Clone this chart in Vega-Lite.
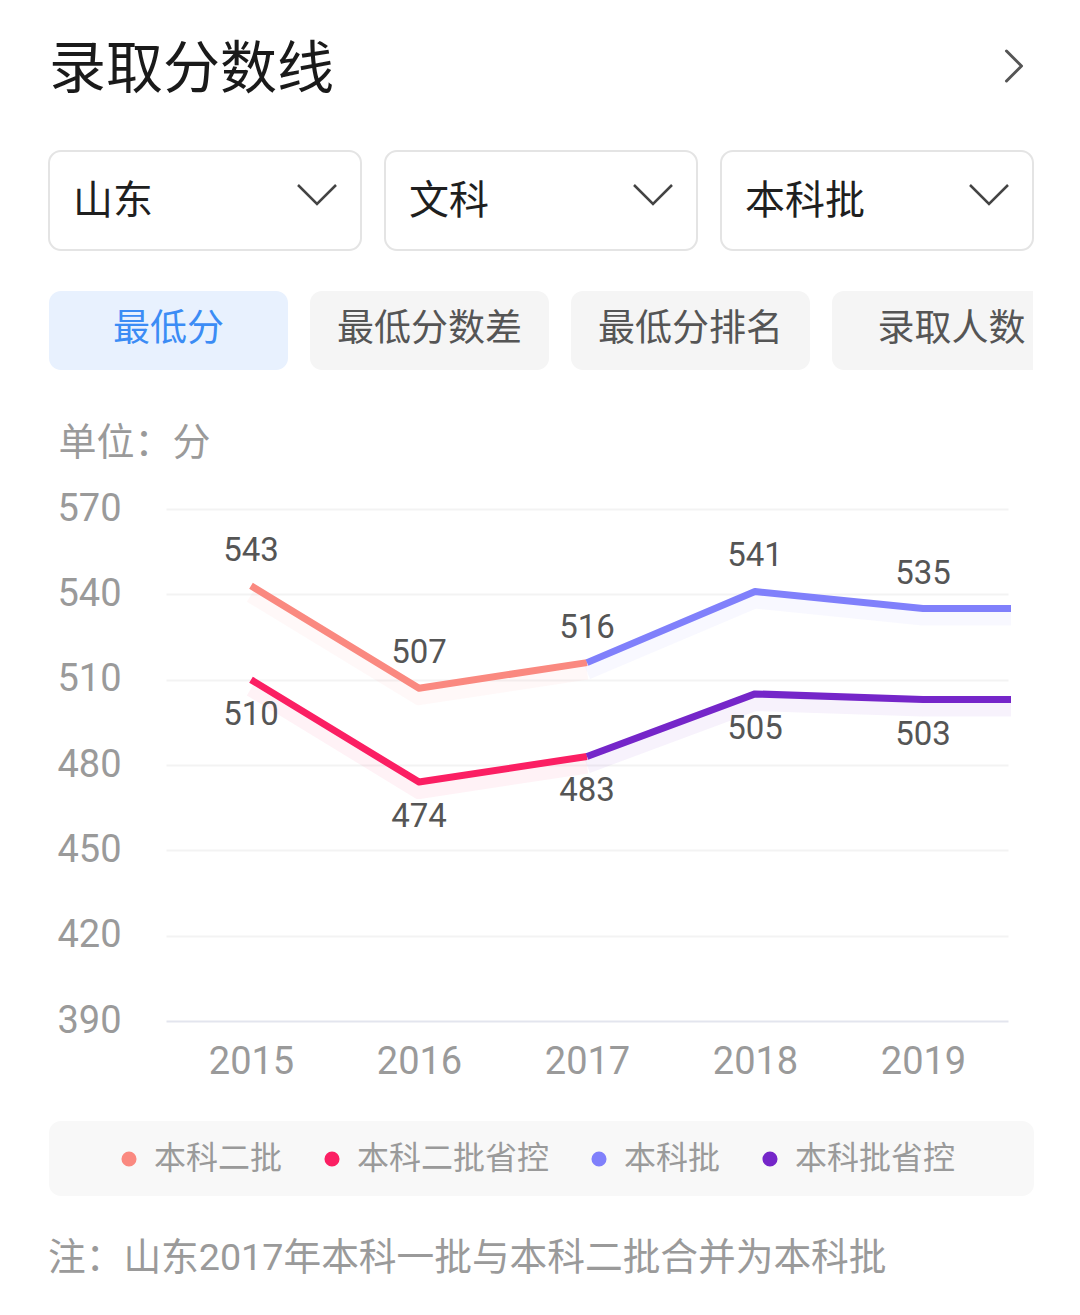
{
  "$schema": "https://vega.github.io/schema/vega-lite/v6.json",
  "background": "white",
  "padding": {"left": 48, "top": 22, "right": 0, "bottom": 0},
  "spacing": 40,
  "config": {"view": {"stroke": null}, "font": "Noto Sans CJK SC"},
  "resolve": {"scale": {"color": "independent"}},
  "title": {
    "text": "注：山东2017年本科一批与本科二批合并为本科批",
    "orient": "bottom",
    "anchor": "start",
    "fontSize": 37.7,
    "font": "Roboto, Noto Sans CJK SC",
    "color": "#9a9a9a",
    "fontWeight": "normal",
    "offset": 44
  },
  "vconcat": [
    {
      "width": 984,
      "height": 88,
      "data": {"values": [{"标题": "录取分数线"}]},
      "layer": [
        {
          "mark": {"type": "text", "align": "left", "baseline": "middle", "x": 0, "dy": 5, "fontSize": 57, "color": "#1a1a1a", "font": "Noto Sans CJK SC"},
          "encoding": {"text": {"field": "标题"}}
        },
        {
          "mark": {"type": "point", "shape": "M-0.5,-1L0.5,0L-0.5,1", "size": 900, "filled": false, "stroke": "#555555", "strokeWidth": 3, "strokeCap": "round", "strokeJoin": "round", "opacity": 1, "x": "width", "xOffset": -19},
          "encoding": {}
        }
      ]
    },
    {
      "width": 984,
      "height": 99,
      "data": {"values": [{"筛选": "山东"}, {"筛选": "文科"}, {"筛选": "本科批"}]},
      "encoding": {
        "x": {"field": "筛选", "type": "nominal", "sort": null, "scale": {"type": "band", "paddingInner": 0.0714, "paddingOuter": 0}, "axis": null}
      },
      "layer": [
        {"mark": {"type": "rect", "fill": "white", "stroke": "#e4e4e4", "strokeWidth": 2, "cornerRadius": 12}},
        {
          "mark": {"type": "text", "align": "left", "baseline": "middle", "dx": 24, "dy": 1, "fontSize": 40, "color": "#1f1f1f", "font": "Noto Sans CJK SC"},
          "encoding": {
            "x": {"field": "筛选", "type": "nominal", "sort": null, "bandPosition": 0},
            "text": {"field": "筛选"}
          }
        },
        {
          "mark": {"type": "point", "shape": "M-1,-0.5L0,0.5L1,-0.5", "size": 1444, "filled": false, "stroke": "#444444", "strokeWidth": 2.5, "opacity": 1, "xOffset": -44, "yOffset": -6},
          "encoding": {
            "x": {"field": "筛选", "type": "nominal", "sort": null, "bandPosition": 1}
          }
        }
      ]
    },
    {
      "spacing": 54,
      "vconcat": [
        {
          "width": 984,
          "height": 79,
          "data": {"values": [{"指标": "最低分"}, {"指标": "最低分数差"}, {"指标": "最低分排名"}, {"指标": "录取人数"}]},
          "encoding": {
            "x": {"field": "指标", "type": "nominal", "sort": null, "scale": {"type": "band", "range": [0, 1022], "paddingInner": 0.0843, "paddingOuter": 0}, "axis": null}
          },
          "layer": [
            {
              "mark": {"type": "rect", "cornerRadius": 12, "clip": true},
              "encoding": {
                "fill": {"condition": {"test": "datum['指标'] === '最低分'", "value": "#e8f1fe"}, "value": "#f5f5f5"}
              }
            },
            {
              "mark": {"type": "text", "baseline": "middle", "dy": -1, "fontSize": 37, "font": "Noto Sans CJK SC", "clip": true},
              "encoding": {
                "text": {"field": "指标"},
                "color": {"condition": {"test": "datum['指标'] === '最低分'", "value": "#3b8cf5"}, "value": "#555555"}
              }
            }
          ]
        },
        {
          "width": 962,
          "height": 512,
          "data": {
            "values": [
              {"批次": "本科二批", "年份": 2015, "分数": 543},
              {"批次": "本科二批", "年份": 2016, "分数": 507},
              {"批次": "本科二批", "年份": 2017, "分数": 516},
              {"批次": "本科二批省控", "年份": 2015, "分数": 510},
              {"批次": "本科二批省控", "年份": 2016, "分数": 474},
              {"批次": "本科二批省控", "年份": 2017, "分数": 483},
              {"批次": "本科批", "年份": 2017, "分数": 516},
              {"批次": "本科批", "年份": 2018, "分数": 541},
              {"批次": "本科批", "年份": 2019, "分数": 535},
              {"批次": "本科批", "年份": 2020, "分数": 535},
              {"批次": "本科批省控", "年份": 2017, "分数": 483},
              {"批次": "本科批省控", "年份": 2018, "分数": 505},
              {"批次": "本科批省控", "年份": 2019, "分数": 503},
              {"批次": "本科批省控", "年份": 2020, "分数": 503}
            ]
          },
          "encoding": {
            "x": {
              "field": "年份",
              "type": "quantitative",
              "scale": {"domain": [2014.494, 2019.506], "range": [117, 959], "nice": false, "zero": false},
              "axis": {
                "values": [2015, 2016, 2017, 2018, 2019],
                "format": "d",
                "title": null,
                "domain": false,
                "ticks": false,
                "grid": false,
                "labelAngle": 0,
                "labelFontSize": 38,
                "labelColor": "#9a9a9a",
                "labelPadding": 22,
                "labelFont": "Roboto"
              }
            },
            "y": {
              "field": "分数",
              "type": "quantitative",
              "scale": {"domain": [390, 570], "nice": false, "zero": false},
              "axis": {
                "values": [390, 420, 450, 480, 510, 540, 570],
                "offset": -117,
                "domain": false,
                "ticks": false,
                "grid": true,
                "gridColor": {"condition": {"test": "datum.value === 390", "value": "#e3e5ee"}, "value": "#f3f3f3"},
                "gridWidth": 2,
                "labelFontSize": 38,
                "labelColor": "#9a9a9a",
                "labelPadding": 45,
                "labelFont": "Roboto",
                "title": "单位：分",
                "titleAngle": 0,
                "titleAlign": "left",
                "titleBaseline": "middle",
                "titleX": -108,
                "titleY": -66,
                "titleFontSize": 38,
                "titleColor": "#9a9a9a",
                "titleFontWeight": "normal",
                "titleFont": "Noto Sans CJK SC"
              }
            },
            "color": {
              "field": "批次",
              "type": "nominal",
              "scale": {"domain": ["本科二批", "本科二批省控", "本科批", "本科批省控"], "range": ["#fa8980", "#fb1f63", "#8080fb", "#7526c9"]},
              "legend": null
            }
          },
          "layer": [
            {"mark": {"type": "line", "strokeWidth": 16, "opacity": 0.06, "yOffset": 9, "clip": true, "strokeJoin": "round"}},
            {"mark": {"type": "line", "strokeWidth": 7, "clip": true, "strokeJoin": "round"}},
            {
              "transform": [{"filter": "datum['年份'] <= 2019 && indexof(datum['批次'], '省控') < 0 && !(datum['批次'] === '本科批' && datum['年份'] === 2017)"}],
              "mark": {"type": "text", "baseline": "middle", "dy": -35, "fontSize": 33, "font": "Roboto", "clip": true},
              "encoding": {"text": {"field": "分数"}, "color": {"value": "#555555"}}
            },
            {
              "transform": [{"filter": "datum['年份'] <= 2019 && indexof(datum['批次'], '省控') >= 0 && !(datum['批次'] === '本科批省控' && datum['年份'] === 2017)"}],
              "mark": {"type": "text", "baseline": "middle", "dy": 35, "fontSize": 33, "font": "Roboto", "clip": true},
              "encoding": {"text": {"field": "分数"}, "color": {"value": "#555555"}}
            }
          ]
        }
      ]
    },
    {
      "width": 985,
      "height": 75,
      "view": {"fill": "#f8f8f8", "cornerRadius": 12, "stroke": null},
      "data": {"values": [{"批次": "本科二批"}, {"批次": "本科二批省控"}, {"批次": "本科批"}, {"批次": "本科批省控"}]},
      "mark": {"type": "point", "filled": true, "opacity": 0},
      "encoding": {
        "color": {
          "field": "批次",
          "type": "nominal",
          "scale": {"domain": ["本科二批", "本科二批省控", "本科批", "本科批省控"], "range": ["#fa8980", "#fb1f63", "#8080fb", "#7526c9"]},
          "legend": {
            "orient": "none",
            "legendX": 64,
            "legendY": 22,
            "direction": "horizontal",
            "title": null,
            "symbolType": "circle",
            "symbolSize": 227,
            "symbolOpacity": 1,
            "symbolStrokeWidth": 0,
            "labelFontSize": 32,
            "labelColor": "#9a9a9a",
            "labelFont": "Noto Sans CJK SC",
            "labelOffset": 9,
            "columnPadding": 33,
            "labelLimit": 400
          }
        }
      }
    }
  ]
}
